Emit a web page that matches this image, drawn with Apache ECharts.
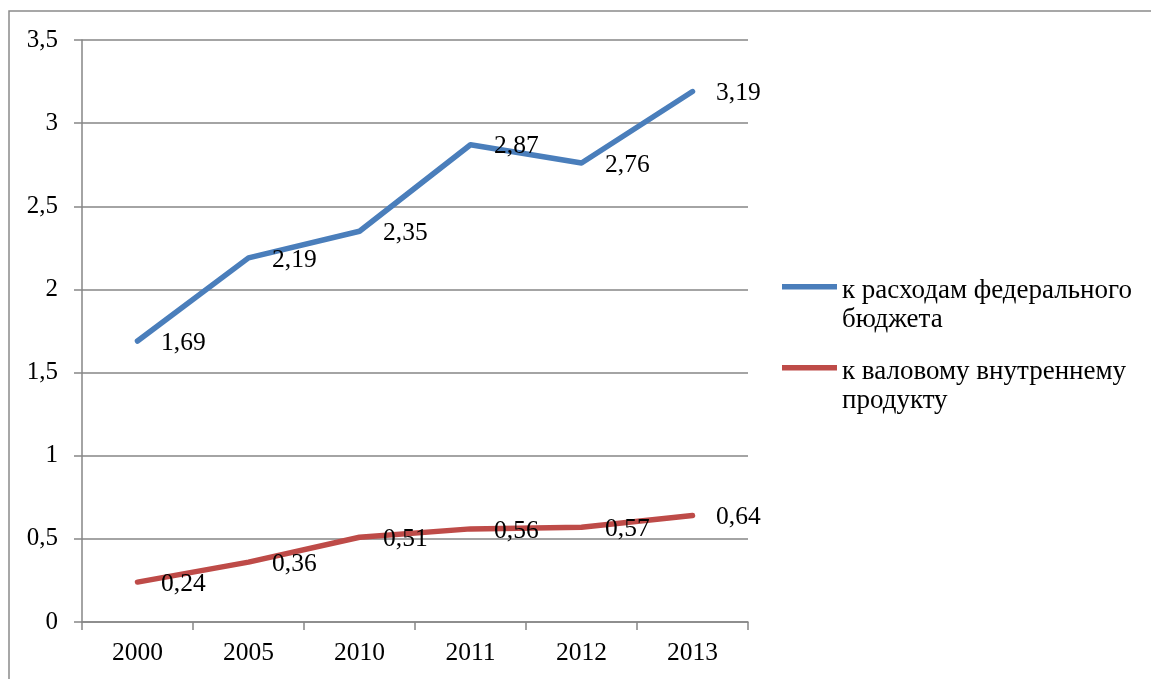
<!DOCTYPE html>
<html><head><meta charset="utf-8">
<script src="https://cdn.jsdelivr.net/npm/echarts@6/dist/echarts.min.js"></script>
<style>html,body{margin:0;padding:0;background:#fff}#c{width:1151px;height:679px}</style>
</head><body><div id="c"></div>
<script>
const categories = ['2000','2005','2010','2011','2012','2013'];
const budgetShare = [1.69, 2.19, 2.35, 2.87, 2.76, 3.19];
const gdpShare = [0.24, 0.36, 0.51, 0.56, 0.57, 0.64];
const seriesNames = ['к расходам федерального бюджета', 'к валовому внутреннему продукту'];
const legendLines = {
  'к расходам федерального бюджета': 'к расходам федерального\nбюджета',
  'к валовому внутреннему продукту': 'к валовому внутреннему\nпродукту'
};
const yTicks = {min: 0, max: 3.5, interval: 0.5};

const FONT = 'Liberation Serif, Times New Roman, serif';
const fmt = v => String(v).replace('.', ',');
const chart = echarts.init(document.getElementById('c'));
const labelCfg = {
  show: true, position: 'right', distance: 23, offset: [0, 2],
  color: '#000', fontFamily: FONT, fontSize: 25.5,
  formatter: p => fmt(p.value)
};
// legend icon: bar at the top of a taller box so it lines up with the first text line
const legendIcon = 'path://M0,0L55,0L55,5.5L0,5.5Z M0,42L0.01,42L0.01,42.01Z';
chart.setOption({
  animation: false,
  graphic: [{type: 'rect', shape: {x: 9, y: 11, width: 1200, height: 700},
    style: {fill: 'none', stroke: '#8a8a8a', lineWidth: 1.5}, silent: true}],
  grid: {left: 82, right: 403, top: 40, bottom: 57, containLabel: false},
  legend: {
    orient: 'vertical', left: 777, top: 271,
    itemWidth: 55, itemHeight: 42, itemGap: 23, icon: legendIcon,
    data: seriesNames,
    formatter: n => legendLines[n],
    textStyle: {fontFamily: FONT, fontSize: 27, color: '#000', lineHeight: 29}
  },
  xAxis: {
    type: 'category', data: categories, boundaryGap: true,
    axisLine: {lineStyle: {color: '#868686', width: 1.5}},
    axisTick: {show: true, length: 8, interval: 0, lineStyle: {color: '#868686', width: 1.5}},
    axisLabel: {color: '#000', fontFamily: FONT, fontSize: 25.5, margin: 18}
  },
  yAxis: {
    type: 'value', min: yTicks.min, max: yTicks.max, interval: yTicks.interval,
    axisLine: {show: true, lineStyle: {color: '#868686', width: 1.5}},
    axisTick: {show: true, length: 8, lineStyle: {color: '#868686', width: 1.5}},
    axisLabel: {color: '#000', fontFamily: FONT, fontSize: 25, margin: 24, formatter: v => fmt(v)},
    splitLine: {lineStyle: {color: '#868686', width: 1.5}}
  },
  series: [
    {name: seriesNames[0], type: 'line', data: budgetShare, showSymbol: true, symbol: 'circle', symbolSize: 1,
     lineStyle: {color: '#4a7ebb', width: 5.5, cap: 'round', join: 'round'}, itemStyle: {color: '#4a7ebb'},
     label: labelCfg},
    {name: seriesNames[1], type: 'line', data: gdpShare, showSymbol: true, symbol: 'circle', symbolSize: 1,
     lineStyle: {color: '#be4b48', width: 5.5, cap: 'round', join: 'round'}, itemStyle: {color: '#be4b48'},
     label: labelCfg}
  ]
});
</script></body></html>
